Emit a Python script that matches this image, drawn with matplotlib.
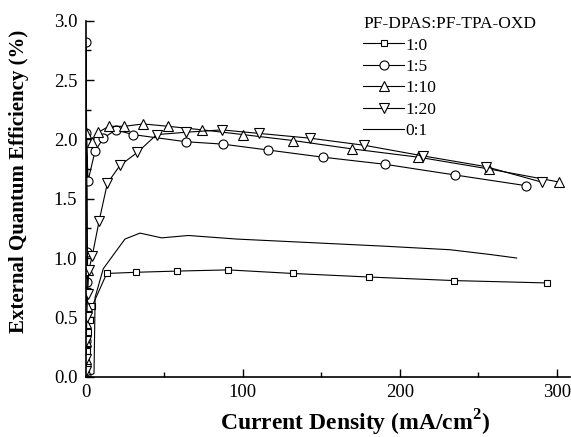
import matplotlib
matplotlib.use("Agg")
import matplotlib.pyplot as plt
from matplotlib.ticker import MultipleLocator

plt.rcParams['font.family'] = ['Liberation Serif', 'DejaVu Serif']
plt.rcParams['mathtext.fontset'] = 'custom'
plt.rcParams['mathtext.rm'] = 'Liberation Serif'
plt.rcParams['mathtext.bf'] = 'Liberation Serif:bold'

# ---- data ----
x_10 = [0.05, 0.1, 0.2, 0.35, 0.6, 1.0, 1.6, 2.5, 4.3, 13.4, 32.2, 58, 90.8, 131.8, 180.5, 234.6, 294]
y_10 = [0.02, 0.05, 0.1, 0.15, 0.22, 0.3, 0.38, 0.48, 0.60, 0.87, 0.88, 0.89, 0.90, 0.87, 0.84, 0.81, 0.79]

x_15 = [0.1, 0.2, 0.4, 0.6, 0.9, 0.3, 0.4, 1.5, 5.9, 11.2, 19.1, 30.3, 63.9, 87.2, 116.3, 151, 190.6, 235.2, 280.4]
y_15 = [0.1, 0.3, 0.55, 0.8, 1.05, 2.82, 2.05, 1.65, 1.90, 2.01, 2.08, 2.04, 1.98, 1.96, 1.91, 1.85, 1.79, 1.70, 1.61]

x_110 = [0.1, 0.2, 0.35, 0.5, 0.8, 1.2, 0.5, 3.8, 8.0, 14.8, 24.4, 36.7, 52.6, 74.3, 100.4, 132.2, 169.4, 211.9, 257.1, 301.7]
y_110 = [0.05, 0.15, 0.3, 0.45, 0.6, 0.9, 2.05, 1.98, 2.06, 2.11, 2.11, 2.13, 2.11, 2.08, 2.04, 1.99, 1.92, 1.85, 1.75, 1.64]

x_120 = [0.1, 0.2, 0.4, 0.7, 1.2, 2.0, 4.2, 8.5, 13.8, 21.8, 32.9, 45.2, 63.9, 86.6, 110.6, 142.9, 177.5, 215.1, 255, 290.4]
y_120 = [0.05, 0.15, 0.3, 0.5, 0.7, 0.9, 1.02, 1.31, 1.63, 1.78, 1.89, 2.04, 2.06, 2.08, 2.05, 2.01, 1.95, 1.86, 1.77, 1.64]

x_01 = [0.5, 1.5, 3, 4.5, 5.3, 6, 11.2, 25, 34.6, 48.4, 65.4, 96, 143, 190, 232, 257.5, 274.5]
y_01 = [0.0, 0.01, 0.02, 0.02, 0.03, 0.67, 0.91, 1.16, 1.21, 1.17, 1.19, 1.16, 1.13, 1.10, 1.07, 1.03, 1.00]

labels = ['1:0', '1:5', '1:10', '1:20', '0:1']
legend_title = 'PF-DPAS:PF-TPA-OXD'
xticks = [0, 100, 200, 300]
yticks = [0.0, 0.5, 1.0, 1.5, 2.0, 2.5, 3.0]

fig = plt.figure(figsize=(5.71, 4.37), dpi=100)
ax = fig.add_axes([85.7/571, 1-376.7/437, (570-85.7)/571, (376.7-20.7)/437])

lw = 0.8
common = dict(color='black', lw=lw, mfc='white', mec='black', mew=0.8)
ax.plot(x_10, y_10, marker='s', ms=5, label=labels[0], **common)
ax.plot(x_15, y_15, marker='o', ms=6.5, label=labels[1], **common)
ax.plot(x_110, y_110, marker='^', ms=7, label=labels[2], **common)
ax.plot(x_120, y_120, marker='v', ms=7, label=labels[3], **common)
ax.plot(x_01, y_01, color='black', lw=lw, label=labels[4])

ax.set_xlim(0, (570-85.7)/1.57)
ax.set_ylim(0, 3.0)
ax.set_xticks(xticks)
ax.set_yticks(yticks)
ax.set_yticklabels([f'{v:.1f}' for v in yticks])
ax.xaxis.set_minor_locator(MultipleLocator(50))
ax.yaxis.set_minor_locator(MultipleLocator(0.25))
ax.tick_params(which='both', direction='in', labelsize=13.5, width=1)
ax.tick_params(which='major', length=6)
ax.tick_params(which='minor', length=3.5)
ax.tick_params(axis='x', pad=5)
ax.tick_params(axis='y', pad=6)
for s in ['top', 'right']:
    ax.spines[s].set_visible(False)
for s in ['left', 'bottom']:
    ax.spines[s].set_linewidth(1.2)

ax.set_xlabel(r'Current Density (mA/cm$^\mathbf{2}$)', fontsize=17, fontweight='bold')
ax.xaxis.set_label_coords(0.556, -0.086)
ax.set_ylabel('External Quantum Efficiency (%)', fontsize=15, fontweight='bold')
ax.yaxis.set_label_coords(-0.118, 0.55)

leg = fig.legend(loc='upper left', bbox_to_anchor=(351/571, 1-4/437), frameon=False,
                 title=legend_title, fontsize=12.5, title_fontsize=12.5,
                 handlelength=2.35, handletextpad=0.1, labelspacing=0.3,
                 borderpad=0.2, alignment='left')

fig.savefig('out.png', dpi=100)
